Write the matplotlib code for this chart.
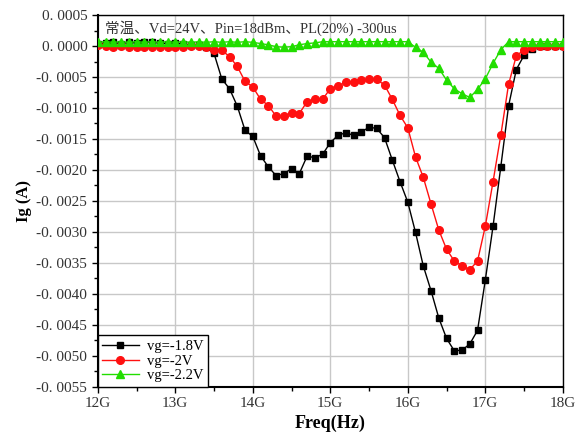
import matplotlib
matplotlib.use("Agg")
import matplotlib.pyplot as plt
from matplotlib.ticker import MultipleLocator, FuncFormatter

freq = [12.0, 12.1, 12.2, 12.3, 12.4, 12.5, 12.6, 12.7, 12.8, 12.9,
        13.0, 13.1, 13.2, 13.3, 13.4, 13.5, 13.6, 13.7, 13.8, 13.9,
        14.0, 14.1, 14.2, 14.3, 14.4, 14.5, 14.6, 14.7, 14.8, 14.9,
        15.0, 15.1, 15.2, 15.3, 15.4, 15.5, 15.6, 15.7, 15.8, 15.9,
        16.0, 16.1, 16.2, 16.3, 16.4, 16.5, 16.6, 16.7, 16.8, 16.9,
        17.0, 17.1, 17.2, 17.3, 17.4, 17.5, 17.6, 17.7, 17.8, 17.9, 18.0]

ig_18 = [0.00004, 0.00005, 0.00006, 0.00004, 0.00006, 0.00005, 0.00007, 0.00006, 0.00005, 0.00004,
         0.00005, 0.00003, 0.00002, 0.00001, -0.00002, -0.00012, -0.00053, -0.00069, -0.00097, -0.00136,
         -0.00146, -0.00177, -0.00195, -0.00209, -0.00206, -0.00198, -0.00206, -0.00178, -0.00180, -0.00175,
         -0.00156, -0.00144, -0.00140, -0.00144, -0.00139, -0.00131, -0.00133, -0.00148, -0.00184, -0.00219,
         -0.00252, -0.00301, -0.00355, -0.00395, -0.00439, -0.00472, -0.00492, -0.00491, -0.00481, -0.00459,
         -0.00378, -0.00291, -0.00195, -0.00097, -0.00038, -0.00015, -0.00004, 0.0, 0.0, 0.0, 0.0]

ig_20 = [0.00001, 0.0, -0.00001, 0.0, -0.00002, -0.00001, -0.00002, -0.00001, -0.00002, -0.00001,
         -0.00002, -0.00001, 0.0, 0.0, -0.00002, -0.00006, -0.00007, -0.00017, -0.00033, -0.00057,
         -0.00066, -0.00086, -0.00096, -0.00113, -0.00113, -0.00108, -0.00109, -0.00090, -0.00086, -0.00086,
         -0.00069, -0.00065, -0.00058, -0.00058, -0.00055, -0.00054, -0.00054, -0.00063, -0.00086, -0.00112,
         -0.00132, -0.00179, -0.00212, -0.00255, -0.00297, -0.00328, -0.00347, -0.00355, -0.00361, -0.00347,
         -0.00291, -0.00219, -0.00144, -0.00062, -0.00016, -0.00006, -0.00002, 0.0, 0.0, 0.0, 0.0]

ig_22 = [0.00006, 0.00007, 0.00006, 0.00007, 0.00006, 0.00007, 0.00006, 0.00007, 0.00006, 0.00007,
         0.00006, 0.00007, 0.00006, 0.00007, 0.00006, 0.00007, 0.00006, 0.00007, 0.00006, 0.00007,
         0.00006, 0.00004, 0.00002, -0.00001, -0.00002, -0.00001, 0.00002, 0.00004, 0.00005, 0.00007,
         0.00007, 0.00007, 0.00007, 0.00007, 0.00007, 0.00007, 0.00007, 0.00007, 0.00007, 0.00007,
         0.00007, -0.00002, -0.00010, -0.00026, -0.00036, -0.00055, -0.00069, -0.00077, -0.00083, -0.00070,
         -0.00053, -0.00028, -0.00006, 0.00007, 0.00007, 0.00007, 0.00007, 0.00007, 0.00007, 0.00007, 0.00007]

series_labels = ["vg=-1.8V", "vg=-2V", "vg=-2.2V"]
x_ticks = [12, 13, 14, 15, 16, 17, 18]
x_tick_labels = ["12G", "13G", "14G", "15G", "16G", "17G", "18G"]
title_text = "常温、Vd=24V、Pin=18dBm、PL(20%) -300us"

plt.rcParams['font.family'] = ['Liberation Serif', 'Noto Sans CJK SC']

fig = plt.figure(figsize=(5.82, 4.43), dpi=100)
ax = fig.add_axes([0.168, 0.127, 0.799, 0.839])

ax.plot(freq, ig_18, color='black', marker='s', ms=5, lw=1, label=series_labels[0], zorder=3)
ax.plot(freq, ig_20, color='#ff1010', marker='o', ms=5.5, lw=1, label=series_labels[1], zorder=4)
ax.plot(freq, ig_22, color='#22dd00', marker='^', ms=6, lw=1, label=series_labels[2], zorder=5)

ax.set_xlim(12, 18)
ax.set_ylim(-0.0055, 0.0005)
ax.set_xticks(x_ticks)
ax.set_xticklabels(x_tick_labels)
ax.xaxis.set_minor_locator(MultipleLocator(0.5))
ax.yaxis.set_major_locator(MultipleLocator(0.0005))
ax.yaxis.set_minor_locator(MultipleLocator(0.00025))
ax.yaxis.set_major_formatter(FuncFormatter(lambda v, p: ("-" if v < -1e-9 else "") + "0. %04d" % round(abs(v) * 10000)))

ax.grid(True, which='major', color='#c8c8c8', lw=1)
ax.set_axisbelow(True)
ax.tick_params(which='both', direction='out', labelsize=11, colors='black', labelcolor='#333333')
ax.tick_params(which='major', length=4, width=1)
ax.tick_params(which='minor', length=3, width=1)
for s in ax.spines.values():
    s.set_color('black')
    s.set_linewidth(1)
ax.spines['left'].set_linewidth(1.5)
ax.spines['bottom'].set_linewidth(1.5)

ax.set_xlabel("Freq(Hz)", fontsize=13, fontweight='bold', labelpad=3)
ax.set_ylabel("Ig (A)", fontsize=12, fontweight='bold', labelpad=3)

ax.text(0.015, 0.985, title_text, transform=ax.transAxes, ha='left', va='top', fontsize=10.5, color='#333333')

leg = ax.legend(loc='lower left', borderaxespad=0, fancybox=False, fontsize=10.5,
                handlelength=2.5, labelspacing=0.1, borderpad=0.3, handletextpad=0.6)
leg.get_frame().set_edgecolor('black')
leg.get_frame().set_linewidth(1)
leg.get_frame().set_alpha(1)

fig.savefig("out.png", dpi=100)
